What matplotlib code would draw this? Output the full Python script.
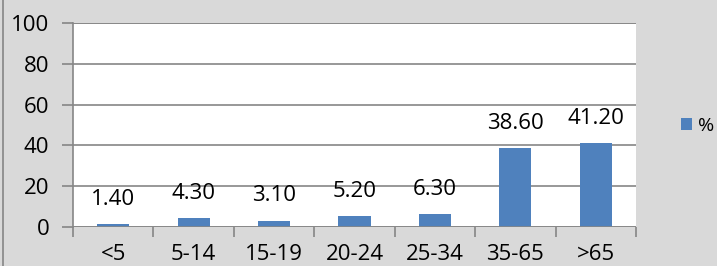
import matplotlib
matplotlib.use("Agg")
import matplotlib.pyplot as plt
import numpy as np

categories = ["<5", "5-14", "15-19", "20-24", "25-34", "35-65", ">65"]
values = [1.40, 4.30, 3.10, 5.20, 6.30, 38.60, 41.20]
series_name = "%"
yticks = [0, 20, 40, 60, 80, 100]

plt.rcParams['font.family'] = ['Open Sans', 'DejaVu Sans']

W, H = 717, 266
fig = plt.figure(figsize=(W/100, H/100), dpi=100, facecolor="#d9d9d9")
ax = fig.add_axes([73/W, 1-227/H, (636-73)/W, (227-23)/H])
ax.set_facecolor("white")

x = np.arange(len(categories))
bars = ax.bar(x, values, width=0.4, color="#4f81bd", zorder=3, label=series_name)
ax.set_xlim(-0.5, len(categories)-0.5)
ax.set_ylim(0, 100)
ax.set_yticks(yticks)
ax.yaxis.grid(True, color="#868686", linewidth=1.2, zorder=0)
for s in ["top", "right", "bottom"]:
    ax.spines[s].set_visible(False)
ax.spines["left"].set_color("#868686")
ax.spines["left"].set_linewidth(1.2)
ax.axhline(0, color="#868686", linewidth=1.2, zorder=4)
ax.axhline(100, color="#868686", linewidth=1.2, zorder=4)

ax.set_xticks(x)
ax.set_xticklabels(categories, fontsize=16)
ax.tick_params(axis="x", length=0, pad=12)
ax.set_xticks(np.arange(-0.5, len(categories)), minor=True)
ax.tick_params(axis="x", which="minor", length=7, width=1.2, color="#868686")
ax.tick_params(axis="y", length=8, width=1.2, color="#868686", labelsize=16, pad=9)

for xi, v in zip(x, values):
    ax.annotate(f"{v:.2f}", (xi, v), xytext=(0, 14), textcoords="offset points",
                ha="center", va="baseline", fontsize=16, color="black")

fig.legend(handles=[bars], labels=[series_name], loc="center left",
           bbox_to_anchor=(681/W, 1-126/H), frameon=False, fontsize=14,
           borderpad=0, borderaxespad=0,
           handlelength=0.55, handleheight=0.55, handletextpad=0.3)

fig.add_artist(plt.Line2D([3/W, 3/W], [0, 1], color="#868686", linewidth=1.2, transform=fig.transFigure))

fig.savefig("out.png", dpi=100, facecolor=fig.get_facecolor())
